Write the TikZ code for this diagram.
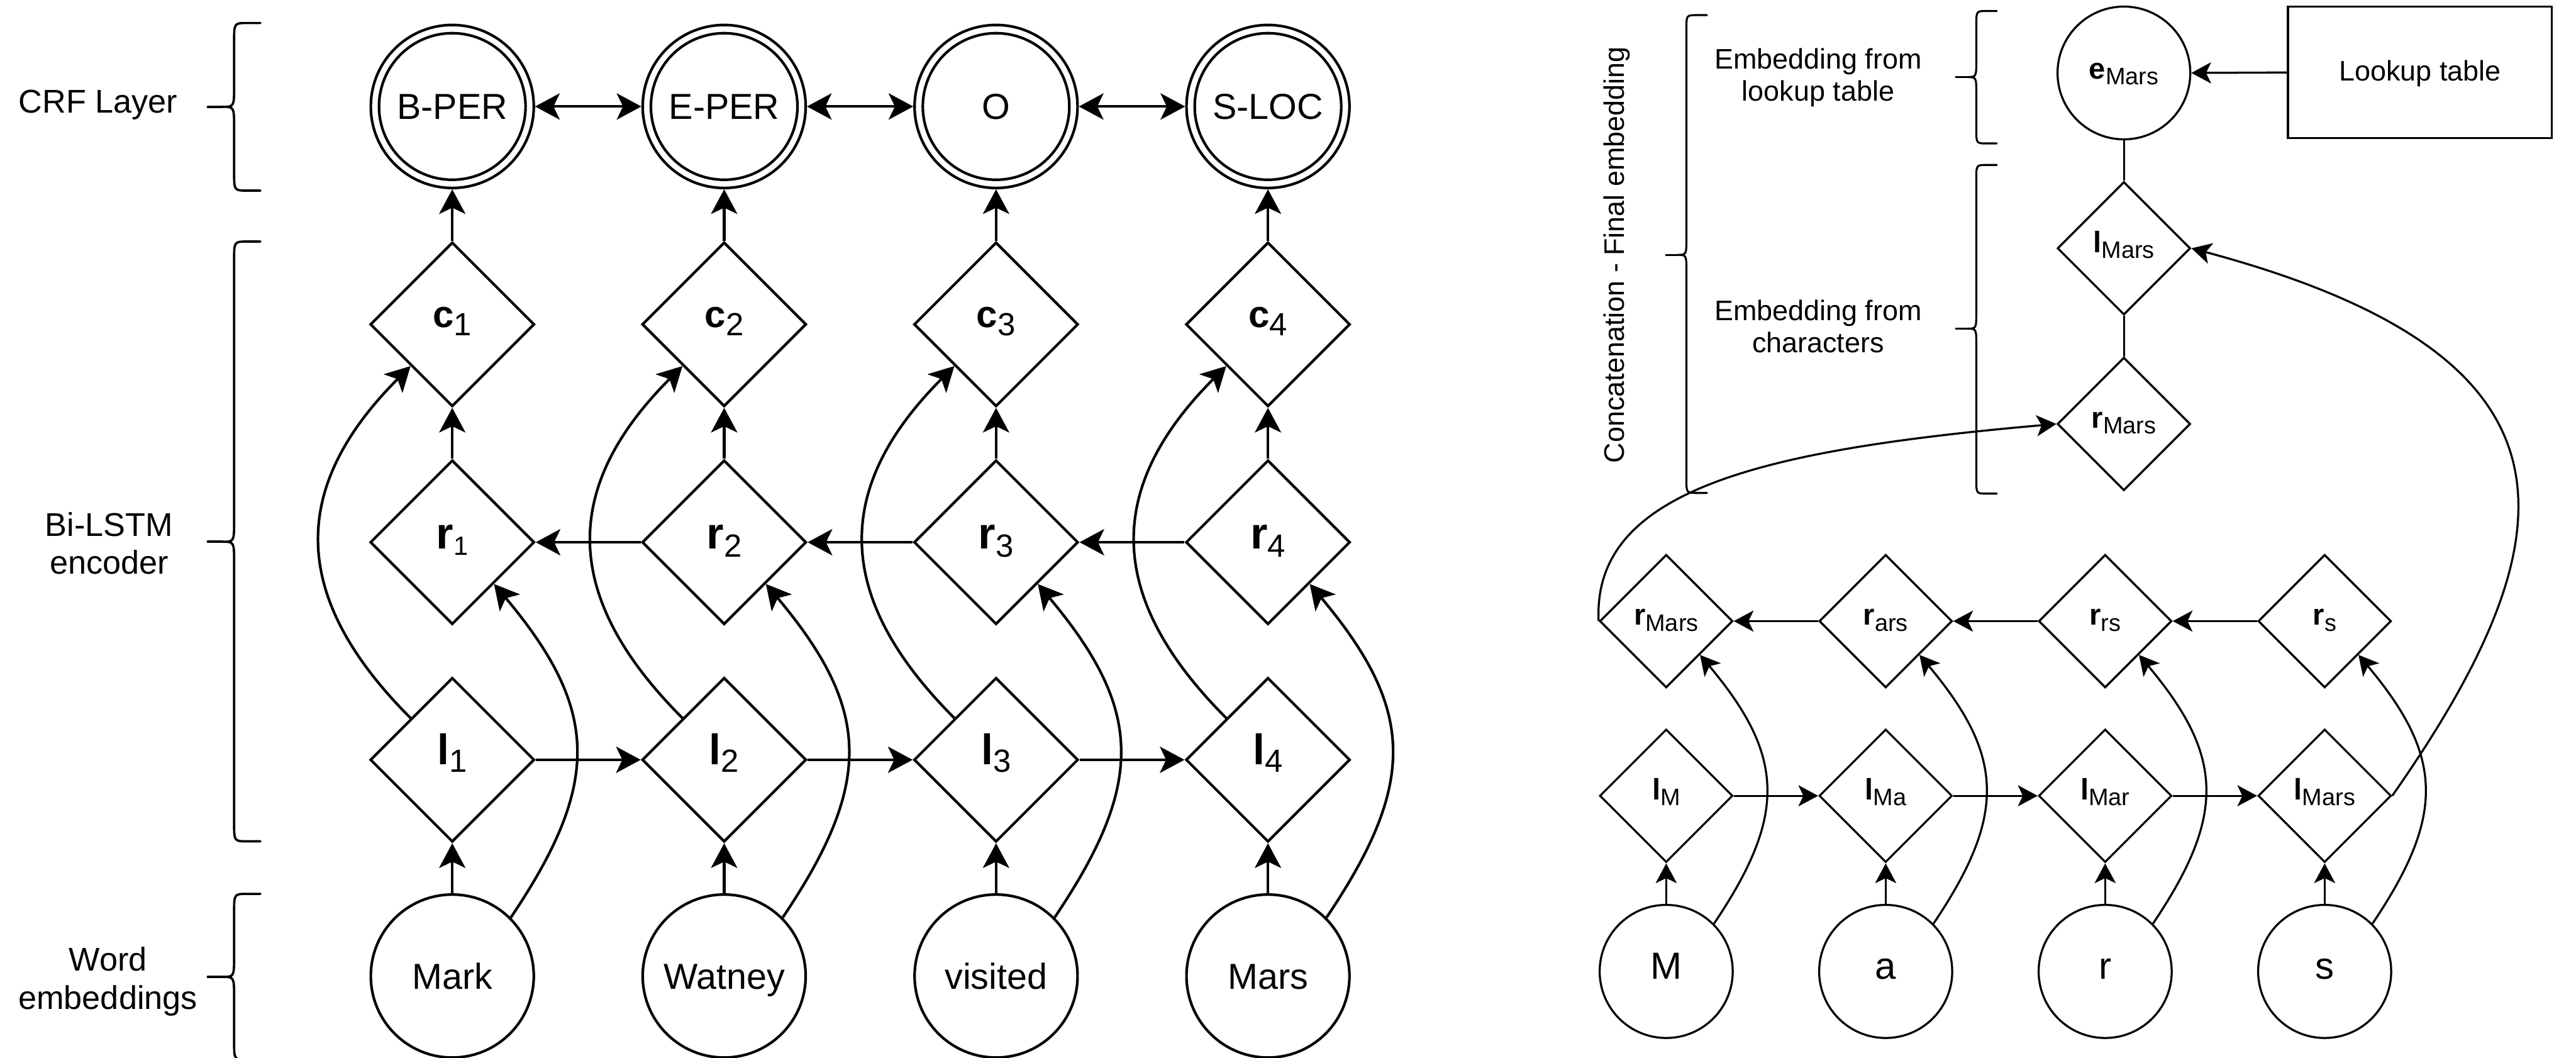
\documentclass[tikz,border=0pt]{standalone}
\usepackage{fontspec}
\setmainfont{Liberation Sans}
\usepackage{graphicx}
\usetikzlibrary{arrows.meta,shapes.geometric}

% bold symbol with a lowered regular subscript: main size, symbol, sub size, subscript
\newcommand\vsub[4]{{\fontsize{#1}{#1}\selectfont\bfseries #2}{\fontsize{#3}{#3}\selectfont\raisebox{-0.24em}{#4}}}

% draw.io-like curly bracket opening to the right
% #1 style, #2 tip x, #3 top y, #4 tip y, #5 bottom y, #6 half width
\newcommand\drawbrace[6]{%
  \pgfmathsetmacro\bxc{#2+#6}%
  \pgfmathsetmacro\bxe{#2+2*#6}%
  \pgfmathsetmacro\bxh{#2+1.5*#6}%
  \pgfmathsetmacro\bxs{#2+0.55*#6}%
  \pgfmathsetmacro\bra{0.7*#6}%
  \pgfmathsetmacro\brb{0.8*#6}%
  \draw[#1] (\bxe,#3) -- (\bxh,#3) .. controls (\bxc,#3) .. (\bxc,#3-\bra)
    -- (\bxc,#4+\brb) .. controls (\bxc,#4) .. (\bxs,#4)
    .. controls (\bxc,#4) .. (\bxc,#4-\brb) -- (\bxc,#5+\bra)
    .. controls (\bxc,#5) .. (\bxh,#5) -- (\bxe,#5);
  \draw[#1] (\bxs,#4) -- (#2,#4);
}

\tikzset{
  wline/.style={line width=1.6pt},
  nline/.style={line width=1.25pt},
  bigtip/.style={-{Stealth[length=15pt,width=16pt,inset=3.8pt]}},
  bigboth/.style={{Stealth[length=15pt,width=16pt,inset=3.8pt]}-{Stealth[length=15pt,width=16pt,inset=3.8pt]}},
  smalltip/.style={-{Stealth[length=12pt,width=12.8pt,inset=3pt]}},
  lbrace/.style={line width=1.4pt, line cap=round},
  rbrace/.style={line width=1.2pt, line cap=round},
  lcirc/.style={circle, draw, wline, minimum size=99.2pt, inner sep=0pt,
    font=\fontsize{22}{22}\selectfont, text height=15.8pt, text depth=0pt},
  ldia/.style={diamond, draw, wline, aspect=1, minimum width=100pt,
    minimum height=100pt, inner sep=0pt},
  cdia/.style={ldia, text height=8pt, text depth=4pt},
  ldiab/.style={ldia, text height=9.6pt, text depth=4pt},
  rdiab/.style={ldia, text height=10.2pt, text depth=2pt},
  sdia/.style={diamond, draw, nline, aspect=1, minimum width=81pt,
    minimum height=81pt, inner sep=0pt, text height=9pt, text depth=4pt},
  scirc/.style={circle, draw, nline, minimum size=81pt, inner sep=0pt,
    font=\fontsize{23}{23}\selectfont, text height=9.4pt, text depth=0pt},
  ecirc/.style={circle, draw, nline, minimum size=80.8pt, inner sep=0pt,
    text height=11.4pt, text depth=4pt},
  tablebox/.style={rectangle, draw, nline, minimum width=160.6pt,
    minimum height=80pt, inner sep=0pt, font=\fontsize{17.2}{17.2}\selectfont,
    text height=9.8pt, text depth=0pt},
  llabel/.style={inner sep=0pt, align=center, font=\fontsize{20}{23.3}\selectfont},
  rlabel/.style={inner sep=0pt, align=center, font=\fontsize{17.2}{19.6}\selectfont},
}

\begin{document}
\begin{tikzpicture}[x=1pt,y=1pt]
\fill[white] (0,0) rectangle (1568,-643.6);
\path[use as bounding box] (0,0) rectangle (1568,-643.6);

% ---------------- word level: CRF on top of a Bi-LSTM ----------------
\foreach \i/\tag/\word/\rs in {1/B-PER/Mark/16, 2/E-PER/Watney/19.5,
                               3/O/visited/19.5, 4/S-LOC/Mars/19.5}{
  \pgfmathsetmacro\cx{275.3+165.5*(\i-1)}
  \node[lcirc] (y\i) at (\cx,-64.8) {\tag};
  \draw[wline] (y\i.center) circle (44.6);
  \node[cdia]  (c\i) at (\cx,-197.4) {\vsub{23}{c}{19.5}{\i}};
  \node[rdiab] (r\i) at (\cx,-330)   {\vsub{27}{r}{\rs}{\i}};
  \node[ldiab] (l\i) at (\cx,-462.4) {\vsub{26}{l}{19.5}{\i}};
  \node[lcirc] (w\i) at (\cx,-594)   {\word};
}

\foreach \i in {1,...,4}{
  \draw[wline,bigtip] (c\i.north) -- (y\i.south);
  \draw[wline,bigtip] (r\i.north) -- (c\i.south);
  \draw[wline,bigtip] (w\i.north) -- (l\i.south);
  \draw[wline,bigtip] (l\i.135) to[out=135,in=225,looseness=1.25] (c\i.225);
  \draw[wline,bigtip] (w\i.45) to[out=56,in=-50,looseness=1.25] (r\i.-45);
}
\foreach \i/\j in {1/2,2/3,3/4}{
  \draw[wline,bigboth] (y\i.east) -- (y\j.west);
  \draw[wline,bigtip] (r\j.west) -- (r\i.east);
  \draw[wline,bigtip] (l\i.east) -- (l\j.west);
}

% layer captions
\node[llabel, anchor=base] (labcrf) at (59.7,-68.7) {CRF Layer};
\node[llabel] (lablstm) at (66.4,-330.7) {Bi-LSTM\\encoder};
\node[llabel] (labword) at (65.7,-597.3) {Word\\embeddings};
\drawbrace{lbrace}{126.5}{-14}{-65}{-116}{16}
\drawbrace{lbrace}{126.5}{-147}{-329.7}{-512}{16}
\drawbrace{lbrace}{126.5}{-544}{-594.5}{-645}{16}

% ---------------- character level embedding of "Mars" ----------------
\foreach \i/\ch/\ls/\rsub in {1/M/M/Mars, 2/a/Ma/ars, 3/r/Mar/rs, 4/s/Mars/s}{
  \pgfmathsetmacro\cx{1014.2+133.6*(\i-1)}
  \node[sdia]  (rr\i) at (\cx,-378)   {\vsub{18}{r}{14.5}{\rsub}};
  \node[sdia]  (rl\i) at (\cx,-484.3) {\vsub{18}{l}{14.5}{\ls}};
  \node[scirc] (ch\i) at (\cx,-591.2) {\ch};
}
\foreach \i in {1,...,4}{
  \draw[nline,smalltip] (ch\i.north) -- (rl\i.south);
  \draw[nline,smalltip] (ch\i.45) to[out=56,in=-50,looseness=1.25] (rr\i.-45);
}
\foreach \i/\j in {1/2,2/3,3/4}{
  \draw[nline,smalltip] (rl\i.east) -- (rl\j.west);
  \draw[nline,smalltip] (rr\j.west) -- (rr\i.east);
}

% final embedding column
\node[ecirc] (eM) at (1292.8,-44.4) {\vsub{18}{e}{14.5}{Mars}};
\node[sdia]  (lM) at (1292.8,-151.1) {\vsub{18}{l}{14.5}{Mars}};
\node[sdia]  (rM) at (1292.8,-258)   {\vsub{18}{r}{14.5}{Mars}};
\node[tablebox] (lookup) at (1473,-44.1) {Lookup table};

\draw[nline,smalltip] (lookup.west) -- (eM.east);
\draw[nline] (eM.south) -- (lM.north);
\draw[nline] (lM.south) -- (rM.north);
\draw[nline,smalltip] (rr1.west) .. controls +(-4,80) and +(-179.3,-15.7) .. (rM.west);
\draw[nline,smalltip] (rl4.east) .. controls +(114.7,163.8) and +(241.5,-64.7) .. (lM.east);

% captions
\node[rlabel] (fromtable) at (1106.7,-47.1) {Embedding from\\lookup table};
\node[rlabel] (fromchars) at (1106.7,-198.7) {Embedding from\\characters};
\node[rlabel, rotate=90, anchor=base] (concat) at (988.5,-155.1) {Concatenation - Final embedding};
\drawbrace{rbrace}{1014}{-9.2}{-155.1}{-300}{12.5}
\drawbrace{rbrace}{1190.5}{-6.7}{-46.9}{-87.3}{12.45}
\drawbrace{rbrace}{1190.5}{-100.4}{-200}{-300.4}{12.45}
\end{tikzpicture}
\end{document}
